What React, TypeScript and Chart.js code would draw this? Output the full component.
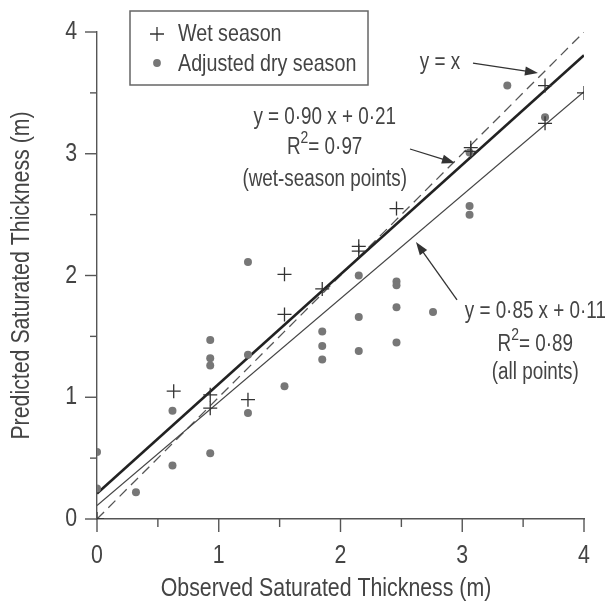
import React, { useEffect, useRef } from "react";
import { Chart, registerables } from "chart.js";

Chart.register(...registerables);

const FONT = '"Liberation Sans", Arial, sans-serif';
const SX = 0.82; // horizontal condensing of text
const TEXT = "#444444";
const AXIS = "#555555";

// ---- data ----
const axisTicks = [0, 1, 2, 3, 4];
const axisTickLabels = ["0", "1", "2", "3", "4"];
const minorTicks = [0.5, 1.5, 2.5, 3.5];

const wetX = [0, 0.63, 0.93, 0.93, 1.24, 1.54, 1.54, 1.85, 2.15, 2.15, 2.46, 3.07, 3.07, 3.68, 3.68, 4.0];
const wetY = [0, 1.05, 1.02, 0.91, 0.98, 2.01, 1.68, 1.89, 2.24, 2.2, 2.55, 3.05, 3.02, 3.56, 3.25, 3.5];

const dryX = [0, 0, 0.32, 0.62, 0.62, 0.93, 0.93, 0.93, 0.93, 1.24, 1.24, 1.24, 1.54, 1.85, 1.85, 1.85, 2.15, 2.15, 2.15, 2.46, 2.46, 2.46, 2.46, 2.76, 3.06, 3.06, 3.06, 3.37, 3.68];
const dryY = [0.55, 0.25, 0.22, 0.89, 0.44, 1.47, 1.32, 1.26, 0.54, 2.11, 1.35, 0.87, 1.09, 1.54, 1.42, 1.31, 2.0, 1.66, 1.38, 1.95, 1.92, 1.74, 1.45, 1.7, 2.57, 2.5, 3.01, 3.56, 3.3];

const fitWet = { slope: 0.9, intercept: 0.21 };
const fitAll = { slope: 0.85, intercept: 0.11 };
const lineRange = [0, 4];

const legendLabels = ["Wet season", "Adjusted dry season"];
const xTitle = "Observed Saturated Thickness (m)";
const yTitle = "Predicted Saturated Thickness (m)";

// annotation text (data-space anchors)
const wetEq = { x: 1.87, ys: [3.3, 3.047, 2.784], eq: "y = 0·90 x + 0·21", r2: "= 0·97", note: "(wet-season points)" };
const allEq = { x: 3.6, ys: [1.7, 1.429, 1.199], eq: "y = 0·85 x + 0·11", r2: "= 0·89", note: "(all points)" };
const idLabel = { x: 2.817, y: 3.745, text: "y = x" };
const arrows = [
  { from: [3.088, 3.745], to: [3.622, 3.663] },
  { from: [2.571, 3.039], to: [2.94, 2.924] },
  { from: [2.957, 1.799], to: [2.62, 2.275] },
];

const pts = (xs: number[], ys: number[]) => xs.map((x, i) => ({ x, y: ys[i] }));
const fitPts = (f: { slope: number; intercept: number }) =>
  lineRange.map((x) => ({ x, y: f.slope * x + f.intercept }));

function condText(
  ctx: CanvasRenderingContext2D,
  text: string,
  x: number,
  y: number,
  size: number,
  align: CanvasTextAlign = "center",
  rot = 0
) {
  ctx.save();
  ctx.font = `${size}px ${FONT}`;
  ctx.fillStyle = TEXT;
  ctx.textAlign = align;
  ctx.textBaseline = "middle";
  ctx.translate(x, y);
  if (rot) ctx.rotate(rot);
  ctx.scale(SX, 1);
  ctx.fillText(text, 0, 0);
  ctx.restore();
}

function drawArrow(ctx: CanvasRenderingContext2D, x1: number, y1: number, x2: number, y2: number) {
  const ang = Math.atan2(y2 - y1, x2 - x1);
  const len = 13;
  const w = 4.5;
  ctx.save();
  ctx.strokeStyle = "#333";
  ctx.fillStyle = "#333";
  ctx.lineWidth = 1.3;
  ctx.beginPath();
  ctx.moveTo(x1, y1);
  ctx.lineTo(x2 - Math.cos(ang) * len * 0.8, y2 - Math.sin(ang) * len * 0.8);
  ctx.stroke();
  ctx.beginPath();
  ctx.moveTo(x2, y2);
  ctx.lineTo(x2 - Math.cos(ang) * len + Math.sin(ang) * w, y2 - Math.sin(ang) * len - Math.cos(ang) * w);
  ctx.lineTo(x2 - Math.cos(ang) * len - Math.sin(ang) * w, y2 - Math.sin(ang) * len + Math.cos(ang) * w);
  ctx.closePath();
  ctx.fill();
  ctx.restore();
}

function drawR2(ctx: CanvasRenderingContext2D, cx: number, cy: number, rest: string, size: number) {
  const small = Math.round(size * 0.72);
  ctx.save();
  ctx.fillStyle = TEXT;
  ctx.textBaseline = "middle";
  ctx.textAlign = "left";
  ctx.translate(cx, cy);
  ctx.scale(SX, 1);
  ctx.font = `${size}px ${FONT}`;
  const wR = ctx.measureText("R").width;
  const wRest = ctx.measureText(rest).width;
  ctx.font = `${small}px ${FONT}`;
  const w2 = ctx.measureText("2").width;
  let x = -(wR + w2 + wRest) / 2;
  ctx.font = `${size}px ${FONT}`;
  ctx.fillText("R", x, 0);
  x += wR;
  ctx.font = `${small}px ${FONT}`;
  ctx.fillText("2", x, -size * 0.42);
  x += w2;
  ctx.font = `${size}px ${FONT}`;
  ctx.fillText(rest, x, 0);
  ctx.restore();
}

const decorPlugin = {
  id: "decor",
  afterDraw(chart: any) {
    const ctx: CanvasRenderingContext2D = chart.ctx;
    const xs = chart.scales.x;
    const ys = chart.scales.y;
    const area = chart.chartArea;
    const X = (v: number) => xs.getPixelForValue(v);
    const Y = (v: number) => ys.getPixelForValue(v);

    // tick marks
    ctx.save();
    ctx.strokeStyle = AXIS;
    ctx.lineWidth = 1.4;
    const all = [...axisTicks.map((v) => [v, 13]), ...minorTicks.map((v) => [v, 8])];
    all.forEach(([v, len]) => {
      const px = X(v);
      ctx.beginPath();
      ctx.moveTo(px, area.bottom);
      ctx.lineTo(px, area.bottom + len);
      ctx.stroke();
      const py = Y(v);
      ctx.beginPath();
      ctx.moveTo(area.left - len + 1, py);
      ctx.lineTo(area.left, py);
      ctx.stroke();
    });
    ctx.restore();

    // tick labels
    axisTicks.forEach((v, i) => {
      condText(ctx, axisTickLabels[i], X(v), area.bottom + 37, 26, "center");
      condText(ctx, axisTickLabels[i], area.left - 20, Y(v), 26, "right");
    });

    // axis titles
    condText(ctx, xTitle, 326, 589, 26, "center");
    condText(ctx, yTitle, 22, (area.top + area.bottom) / 2, 26, "center", -Math.PI / 2);

    // legend
    ctx.save();
    ctx.fillStyle = "#fff";
    ctx.fillRect(130, 11, 238, 74);
    ctx.strokeStyle = "#666";
    ctx.lineWidth = 1.5;
    ctx.strokeRect(130, 11, 238, 74);
    ctx.strokeStyle = "#333";
    ctx.lineWidth = 1.3;
    ctx.beginPath();
    ctx.moveTo(150, 34);
    ctx.lineTo(164, 34);
    ctx.moveTo(157, 27);
    ctx.lineTo(157, 41);
    ctx.stroke();
    ctx.fillStyle = "#777";
    ctx.beginPath();
    ctx.arc(157, 63, 3.9, 0, Math.PI * 2);
    ctx.fill();
    ctx.restore();
    condText(ctx, legendLabels[0], 178, 34, 24, "left");
    condText(ctx, legendLabels[1], 178, 64, 24, "left");

    // annotations
    [wetEq, allEq].forEach((a) => {
      condText(ctx, a.eq, X(a.x), Y(a.ys[0]), 23);
      drawR2(ctx, X(a.x), Y(a.ys[1]), a.r2, 23);
      condText(ctx, a.note, X(a.x), Y(a.ys[2]), 23);
    });
    condText(ctx, idLabel.text, X(idLabel.x), Y(idLabel.y), 23);

    arrows.forEach((a) => drawArrow(ctx, X(a.from[0]), Y(a.from[1]), X(a.to[0]), Y(a.to[1])));
  },
};

export default function App() {
  const ref = useRef<HTMLCanvasElement | null>(null);
  useEffect(() => {
    document.body.style.margin = "0";
    const canvas = ref.current;
    if (!canvas) return;
    const chart = new Chart(canvas, {
      type: "scatter",
      data: {
        datasets: [
          {
            label: legendLabels[0],
            data: pts(wetX, wetY),
            pointStyle: "cross",
            pointRadius: 7,
            pointBorderColor: "#333",
            pointBorderWidth: 1.3,
            backgroundColor: "#333",
            borderColor: "#333",
            showLine: false,
          },
          {
            label: legendLabels[1],
            data: pts(dryX, dryY),
            pointStyle: "circle",
            pointRadius: 4,
            pointBorderWidth: 0,
            backgroundColor: "#777",
            borderColor: "#777",
            showLine: false,
          },
          {
            label: "wet fit",
            type: "line",
            data: fitPts(fitWet),
            borderColor: "#222",
            borderWidth: 2.6,
            pointRadius: 0,
            fill: false,
          } as any,
          {
            label: "all fit",
            type: "line",
            data: fitPts(fitAll),
            borderColor: "#444",
            borderWidth: 1.2,
            pointRadius: 0,
            fill: false,
          } as any,
          {
            label: "y = x",
            type: "line",
            data: lineRange.map((x) => ({ x, y: x })),
            borderColor: "#555",
            borderWidth: 1.3,
            borderDash: [10, 6],
            pointRadius: 0,
            fill: false,
          } as any,
        ],
      },
      options: {
        responsive: false,
        animation: false,
        layout: { padding: { top: 32, right: 21, bottom: 0, left: 0 } },
        plugins: { legend: { display: false }, tooltip: { enabled: false } },
        scales: {
          x: {
            type: "linear",
            min: 0,
            max: 4,
            afterFit: (s: any) => {
              s.height = 90;
            },
            ticks: { display: false, stepSize: 1 },
            grid: { display: false },
            border: { display: true, color: AXIS, width: 1.4 },
          },
          y: {
            type: "linear",
            min: 0,
            max: 4,
            afterFit: (s: any) => {
              s.width = 97;
            },
            ticks: { display: false, stepSize: 1 },
            grid: { display: false },
            border: { display: true, color: AXIS, width: 1.4 },
          },
        },
      },
      plugins: [decorPlugin],
    });
    return () => chart.destroy();
  }, []);
  return <canvas ref={ref} width={605} height={609} style={{ display: "block" }} />;
}
